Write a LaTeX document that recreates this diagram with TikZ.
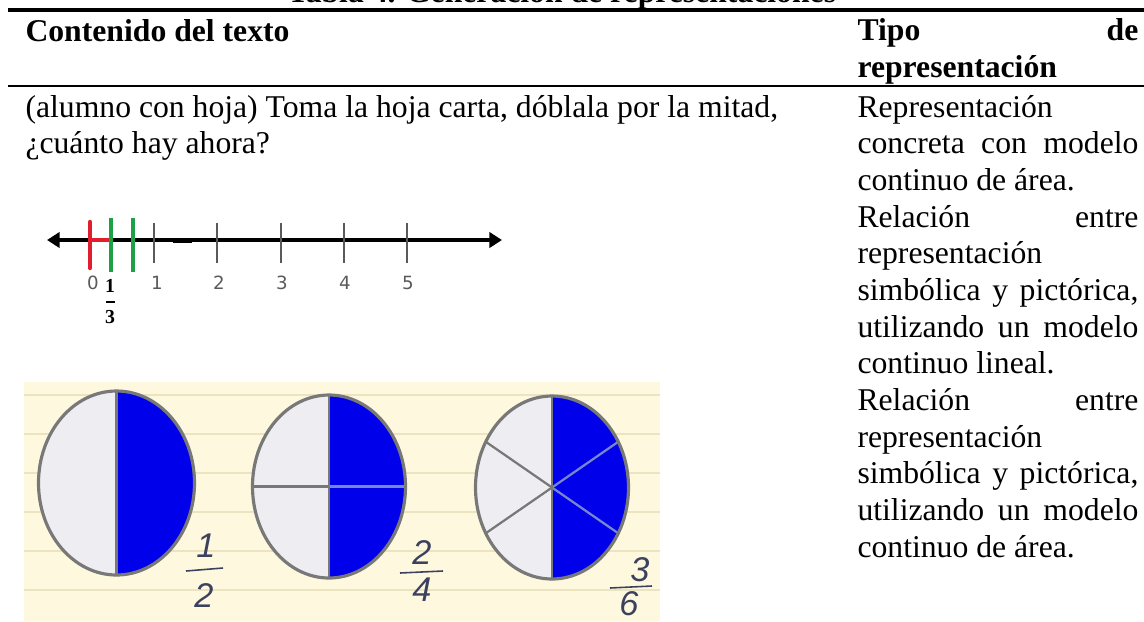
\documentclass[tikz,border=0pt]{standalone}
\usepackage{fontspec}
\setmainfont{Liberation Serif}
\newfontfamily\numfont{DejaVu Sans}
\newfontfamily\handfont{Liberation Sans}
\usetikzlibrary{arrows.meta}
\definecolor{cream}{RGB}{254,249,222}
\definecolor{stripe}{RGB}{236,228,192}
\definecolor{pieblue}{RGB}{0,0,235}
\definecolor{piegray}{RGB}{238,238,242}
\definecolor{rim}{RGB}{120,120,120}
\definecolor{spokeblue}{RGB}{120,135,205}
\definecolor{tickred}{RGB}{225,30,45}
\definecolor{tickgreen}{RGB}{30,160,70}
\definecolor{tickgray}{RGB}{90,90,90}
\definecolor{hand}{RGB}{60,65,95}
\newlength\rcolw
\setlength\rcolw{106.4pt}
\tikzset{
  txt/.style={inner sep=0pt, anchor=base west, font=\fontsize{12pt}{13.8pt}\selectfont},
  hdr/.style={inner sep=0pt, anchor=base west, font=\fontsize{12pt}{13.8pt}\selectfont\bfseries},
  toprule/.style={line width=1.15pt, black},
  midrule/.style={line width=0.75pt, black},
  axis/.style={line width=1.3pt, black, {Triangle[length=4.8pt,width=5.8pt]}-{Triangle[length=4.8pt,width=5.8pt]}},
  redtick/.style={line width=1.7pt, tickred, line cap=round},
  greentick/.style={line width=1.2pt, tickgreen},
  graytick/.style={line width=0.9pt, tickgray},
  numlab/.style={inner sep=0pt, font=\numfont\fontsize{6.9pt}{8pt}\selectfont, text=tickgray},
  fraclab/.style={inner sep=0pt, font=\fontsize{7.5pt}{9pt}\selectfont\bfseries},
  rimline/.style={line width=1.2pt, rim},
  divgray/.style={line width=0.85pt, rim},
  divblue/.style={line width=0.85pt, spokeblue},
  handlab/.style={inner sep=0pt, font=\handfont\itshape\fontsize{13pt}{15pt}\selectfont, text=hand},
  handbar/.style={line width=0.6pt, hand},
}
\begin{document}
\begin{tikzpicture}[x=0.3788pt,y=-0.3788pt]
\useasboundingbox (0,0) rectangle (1144,621);
\clip (0,0) rectangle (1144,621);

% ---- title and rules
\node[hdr] (title) at (287,2.5) {Tabla 4. Generación de representaciones};
\coordinate (r1a) at (8,10);   \coordinate (r1b) at (1144,10);
\coordinate (r2a) at (8,86);   \coordinate (r2b) at (1144,86);
\draw[toprule] (r1a) -- (r1b);
\draw[midrule] (r2a) -- (r2b);

% ---- header
\node[hdr] (h1) at (25,41) {Contenido del texto};
\node[hdr] (h2) at (857,40) {\makebox[\rcolw][s]{Tipo de}};
\node[hdr] (h3) at (857,77) {representación};

% ---- left column text
\node[txt] (b1) at (25,117) {(alumno con hoja) Toma la hoja carta, dóblala por la mitad,};
\node[txt] (b2) at (25,153.7) {¿cuánto hay ahora?};

% ---- right column text
\node[txt] (t0)  at (857,117)   {Representación};
\node[txt] (t1)  at (857,153.7) {\makebox[\rcolw][s]{concreta con modelo}};
\node[txt] (t2)  at (857,190.3) {continuo de área.};
\node[txt] (t3)  at (857,227)   {\makebox[\rcolw][s]{Relación entre}};
\node[txt] (t4)  at (857,263.7) {representación};
\node[txt] (t5)  at (857,300.3) {\makebox[\rcolw][s]{simbólica y pictórica,}};
\node[txt] (t6)  at (857,337)   {\makebox[\rcolw][s]{utilizando un modelo}};
\node[txt] (t7)  at (857,373.7) {continuo lineal.};
\node[txt] (t8)  at (857,410.3) {\makebox[\rcolw][s]{Relación entre}};
\node[txt] (t9)  at (857,447)   {representación};
\node[txt] (t10) at (857,483.7) {\makebox[\rcolw][s]{simbólica y pictórica,}};
\node[txt] (t11) at (857,520.3) {\makebox[\rcolw][s]{utilizando un modelo}};
\node[txt] (t12) at (857,557)   {continuo de área.};

% ---- number line
\coordinate (al) at (47,240);
\coordinate (ar) at (502,240);
\draw[axis] (al) -- (ar);
\draw[line width=1.9pt, black] (173,240) -- (192,240);
\draw[line width=1.2pt, tickred] (90,240) -- (111,240);
\draw[redtick] (90,222) -- (90,268);
\foreach \x in {111,133}{\draw[greentick] (\x,218) -- (\x,272);}
\foreach \x in {154,217,281,344,407}{\draw[graytick] (\x,223) -- (\x,263);}
\node[numlab] (n0) at (93,283) {0};
\node[numlab] (n1) at (157,283) {1};
\node[numlab] (n2) at (219,283) {2};
\node[numlab] (n3) at (282,283) {3};
\node[numlab] (n4) at (345,283) {4};
\node[numlab] (n5) at (408,283) {5};
\node[fraclab] (fn) at (110,286) {1};
\node[fraclab] (fd) at (110,317) {3};
\draw[line width=0.7pt] (106,302) -- (115,302);

% ---- pie picture
\fill[cream] (24,382) rectangle (660,621);
\foreach \y in {395,434,473,512,551,590}{\draw[stripe, line width=0.8pt] (24,\y) -- (660,\y);}

% ellipse 1 : halves
\coordinate (c1) at (116.5,483);
\begin{scope}
  \clip (c1) ellipse [x radius=78, y radius=92];
  \fill[piegray] (30,380) rectangle (116.5,590);
  \fill[pieblue] (116.5,380) rectangle (200,590);
\end{scope}
\draw[divgray] (116.5,391) -- (116.5,575);
\draw[rimline] (c1) ellipse [x radius=78, y radius=92];

% ellipse 2 : quarters
\coordinate (c2) at (329,486.5);
\begin{scope}
  \clip (c2) ellipse [x radius=76.5, y radius=91.5];
  \fill[piegray] (240,380) rectangle (329,590);
  \fill[pieblue] (329,380) rectangle (420,590);
\end{scope}
\draw[divgray] (252.5,486.5) -- (329,486.5);
\draw[divblue] (329,486.5) -- (405.5,486.5);
\draw[divgray] (329,395) -- (329,578);
\draw[rimline] (c2) ellipse [x radius=76.5, y radius=91.5];

% ellipse 3 : sixths
\coordinate (c3) at (552,487.5);
\begin{scope}
  \clip (c3) ellipse [x radius=76.5, y radius=91.5];
  \fill[piegray] (460,380) rectangle (552,590);
  \fill[pieblue] (552,380) rectangle (640,590);
\end{scope}
\draw[divgray] (c3) -- (485.75,441.75);
\draw[divgray] (c3) -- (485.75,533.25);
\draw[divblue] (c3) -- (618.25,441.75);
\draw[divblue] (c3) -- (618.25,533.25);
\draw[divgray] (552,396) -- (552,579);
\draw[rimline] (c3) ellipse [x radius=76.5, y radius=91.5];

% handwritten fractions
\node[handlab] (p1n) at (206,546) {1};
\node[handlab] (p1d) at (204,596) {2};
\draw[handbar] (186,571) -- (223,568);
\node[handlab] (p2n) at (422,553) {2};
\node[handlab] (p2d) at (422,590) {4};
\draw[handbar] (400,573) -- (443,571);
\node[handlab] (p3n) at (640,570) {3};
\node[handlab] (p3d) at (629,604) {6};
\draw[handbar] (610,588) -- (652,586);
\end{tikzpicture}
\end{document}
